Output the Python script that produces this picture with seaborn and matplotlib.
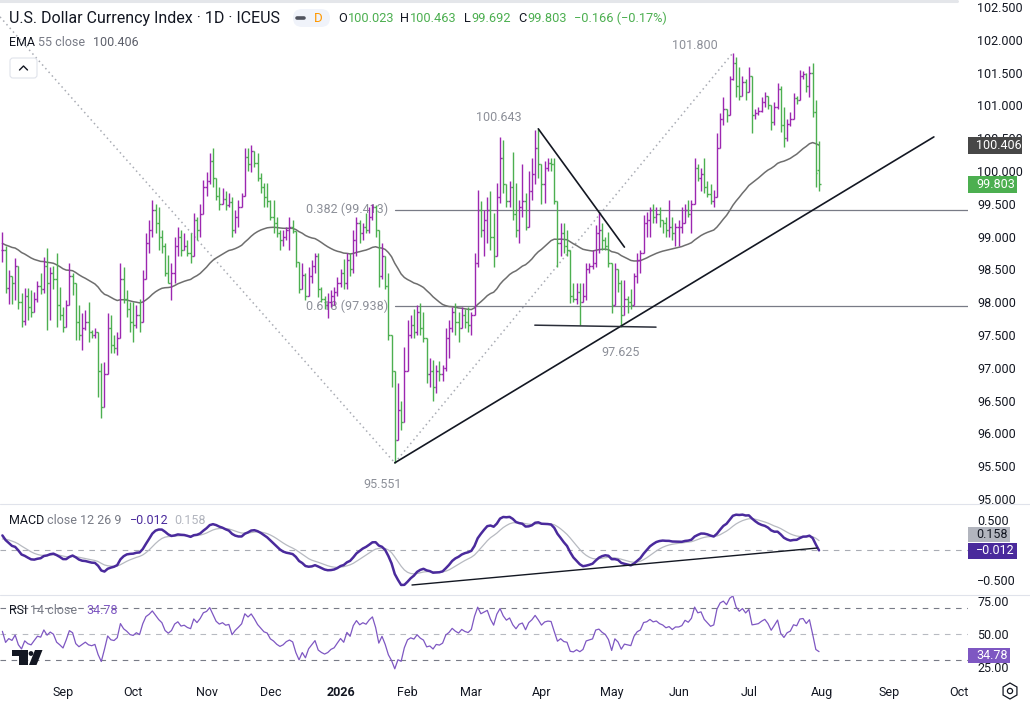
import numpy as np
import pandas as pd
import matplotlib
matplotlib.use("Agg")
import matplotlib.pyplot as plt
import seaborn as sns
from matplotlib.lines import Line2D
from matplotlib.patches import Rectangle, FancyBboxPatch, Polygon, Circle, RegularPolygon
from matplotlib.transforms import IdentityTransform

W, H = 1030, 708

# daily bars 5 Aug 2025 .. 31 Jul 2026, one row per month
closes = [
    98.80, 98.22, 98.40, 98.30, 98.55, 98.00, 97.72, 98.10, 97.92, 97.85, 98.05, 98.25, 98.20, 98.55, 98.30, 98.45, 98.35, 97.95, 97.80,
    97.62, 97.95, 98.40, 98.30, 97.70, 97.50, 97.60, 97.70, 97.55, 97.50, 97.55, 96.95, 96.40, 96.90, 97.60, 97.35, 97.30, 97.45, 98.35, 98.05, 97.90, 97.70,
    97.65, 97.80, 97.70, 98.35, 98.90, 99.10, 99.40, 99.20, 99.00, 98.85, 98.45, 98.30, 98.45, 98.85, 99.00, 98.80, 98.85, 98.75, 98.70, 99.25, 99.10, 99.35, 99.75,
    99.85, 100.15, 99.90, 99.62, 99.50, 99.58, 99.48, 99.52, 99.10, 99.30, 99.45, 99.62, 100.22, 100.10, 100.30, 100.12, 99.90, 99.75, 99.60, 99.55,
    99.30, 99.20, 99.05, 98.95, 99.00, 99.10, 99.15, 99.08, 98.62, 98.20, 98.42, 98.10, 98.40, 98.55, 98.70, 98.20, 98.05, 97.95, 98.00, 98.10, 98.15, 98.30,
    98.45, 98.30, 98.65, 98.50, 98.95, 99.20, 99.05, 99.15, 99.10, 99.30, 99.45, 99.10, 98.40, 98.70, 98.25, 97.50, 96.95, 95.90, 96.36, 96.17, 96.95,
    97.50, 97.65, 97.55, 97.85, 97.60, 97.45, 96.90, 96.95, 96.70, 96.95, 96.90, 97.00, 97.45, 97.60, 97.85, 97.70, 97.60, 97.80, 97.70, 97.65,
    97.80, 98.60, 99.40, 99.10, 99.25, 99.40, 99.00, 98.70, 99.60, 100.20, 99.80, 99.55, 99.75, 99.35, 99.10, 99.45, 99.55, 99.15, 99.70, 99.95, 100.35, 100.10,
    99.80, 100.05, 100.12, 100.10, 99.55, 98.90, 99.05, 98.85, 98.80, 98.10, 98.05, 98.15, 98.00, 98.10, 98.50, 98.55, 98.60, 99.05, 99.10, 98.95, 98.85, 98.60,
    97.95, 98.50, 98.30, 97.80, 98.05, 98.00, 97.95, 98.40, 98.65, 98.75, 99.20, 99.25, 99.40, 99.30, 99.35, 99.25, 99.20, 99.10, 99.15, 99.05, 99.15,
    99.15, 99.20, 99.40, 99.35, 99.50, 100.05, 99.90, 99.95, 99.75, 99.65, 99.55, 99.60, 100.35, 100.80, 100.95, 100.85, 101.40, 101.65, 101.30, 101.15, 101.35, 101.20,
    101.45, 100.85, 100.88, 100.92, 101.05, 101.15, 101.00, 100.75, 100.98, 101.25, 100.70, 100.50, 100.72, 100.80, 101.12, 101.08, 101.45, 101.48, 101.30, 101.50, 100.90, 99.969, 99.803,
]
highs = [
    99.07, 98.85, 98.49, 98.40, 98.67, 98.49, 98.14, 98.22, 98.22, 98.18, 98.15, 98.32, 98.45, 98.69, 98.83, 98.54, 98.55, 98.75, 98.23,
    97.93, 98.03, 98.60, 98.45, 98.30, 97.96, 97.84, 97.88, 98.00, 97.58, 97.60, 97.35, 97.07, 97.09, 97.84, 97.80, 97.50, 97.55, 98.60, 98.54, 98.19, 98.00,
    98.00, 97.95, 98.05, 98.49, 99.05, 99.25, 99.56, 99.50, 99.45, 99.10, 98.90, 98.72, 98.60, 99.00, 99.15, 99.10, 99.05, 98.95, 99.05, 99.36, 99.30, 99.50, 99.86,
    99.98, 100.27, 100.35, 99.90, 99.76, 99.74, 99.70, 99.67, 99.60, 99.40, 99.56, 99.67, 100.35, 100.35, 100.40, 100.27, 100.27, 99.97, 99.82, 99.82,
    99.56, 99.56, 99.30, 99.10, 99.10, 99.15, 99.30, 99.25, 98.95, 98.54, 98.60, 98.45, 98.54, 98.64, 98.75, 98.75, 98.23, 98.10, 98.14, 98.19, 98.23, 98.38,
    98.50, 98.66, 98.75, 98.75, 99.10, 99.30, 99.25, 99.20, 99.36, 99.45, 99.50, 99.48, 99.10, 98.90, 98.45, 98.45, 97.32, 96.77, 96.77, 96.50, 97.32,
    97.73, 97.80, 97.90, 97.95, 97.99, 97.85, 97.45, 97.15, 97.12, 97.05, 97.10, 97.05, 97.60, 97.73, 97.93, 97.99, 97.85, 97.93, 97.90, 97.93,
    97.85, 98.75, 99.71, 99.55, 99.40, 99.60, 99.70, 99.36, 99.82, 100.52, 100.47, 99.80, 99.85, 100.29, 99.82, 99.56, 100.10, 99.67, 100.00, 100.20, 100.63, 100.643,
    100.10, 100.15, 100.20, 100.20, 100.20, 99.18, 99.20, 99.20, 99.10, 98.38, 98.30, 98.30, 98.30, 98.30, 98.60, 98.60, 98.80, 99.18, 99.36, 99.20, 99.00, 99.07,
    98.23, 98.60, 98.50, 98.34, 98.34, 98.10, 98.20, 98.45, 98.75, 98.80, 99.33, 99.38, 99.45, 99.50, 99.45, 99.45, 99.25, 99.30, 99.56, 99.30, 99.20,
    99.25, 99.45, 99.50, 99.56, 99.56, 100.20, 100.10, 100.05, 100.20, 99.85, 99.80, 99.71, 100.58, 100.88, 101.13, 100.95, 101.45, 101.80, 101.74, 101.59, 101.45, 101.40,
    101.59, 101.13, 100.95, 100.98, 101.13, 101.20, 101.10, 101.00, 101.05, 101.34, 101.30, 100.98, 100.80, 100.90, 101.19, 101.15, 101.54, 101.52, 101.50, 101.60, 101.65, 101.08, 100.463,
]
lows = [
    98.62, 98.14, 97.98, 97.98, 98.03, 97.90, 97.62, 97.65, 97.73, 97.78, 97.95, 98.00, 98.12, 98.14, 97.58, 97.73, 98.20, 97.62, 97.73,
    97.54, 97.62, 97.98, 98.11, 97.42, 97.42, 97.27, 97.58, 97.40, 97.45, 97.45, 96.55, 96.23, 96.40, 97.10, 97.23, 97.22, 97.20, 97.77, 97.99, 97.77, 97.55,
    97.40, 97.60, 97.55, 97.93, 98.38, 98.75, 99.00, 99.05, 98.80, 98.75, 98.40, 98.30, 98.03, 98.30, 98.70, 98.70, 98.80, 98.70, 98.60, 98.70, 98.95, 99.00, 99.50,
    99.62, 99.80, 99.76, 99.56, 99.40, 99.50, 99.40, 99.45, 99.00, 99.05, 99.15, 99.45, 99.65, 100.00, 99.98, 100.06, 99.85, 99.67, 99.45, 99.45,
    99.25, 99.06, 99.00, 98.80, 98.85, 98.95, 98.80, 99.05, 98.54, 98.14, 98.20, 98.03, 98.10, 98.30, 98.45, 98.08, 98.00, 97.90, 97.76, 97.93, 97.95, 98.10,
    98.23, 98.20, 98.20, 98.40, 98.45, 98.70, 98.90, 98.95, 99.05, 99.05, 99.25, 99.00, 98.23, 98.35, 98.20, 97.42, 96.70, 95.551, 95.95, 96.05, 96.50,
    97.00, 97.45, 97.45, 97.50, 97.50, 97.40, 96.77, 96.70, 96.50, 96.62, 96.80, 96.80, 96.95, 97.15, 97.55, 97.50, 97.40, 97.60, 97.60, 97.55,
    97.50, 98.00, 98.54, 99.00, 98.70, 98.90, 98.80, 98.54, 99.25, 99.51, 99.67, 99.45, 99.45, 99.25, 99.00, 98.90, 99.30, 99.10, 99.15, 99.56, 99.80, 99.90,
    99.50, 99.51, 100.00, 100.00, 99.50, 98.54, 98.70, 98.75, 98.70, 97.99, 98.00, 97.97, 97.65, 98.00, 98.03, 98.45, 98.50, 98.54, 98.75, 98.80, 98.80, 98.54,
    97.83, 97.95, 98.15, 97.625, 97.95, 97.83, 97.90, 97.95, 98.30, 98.45, 98.75, 99.00, 99.00, 99.20, 99.20, 99.15, 99.05, 99.00, 99.00, 98.95, 98.85,
    98.85, 99.05, 99.20, 99.30, 99.05, 99.50, 99.85, 99.70, 99.67, 99.60, 99.50, 99.45, 99.60, 100.35, 100.70, 100.75, 100.85, 101.39, 101.13, 101.08, 101.15, 101.08,
    101.20, 100.58, 100.80, 100.85, 100.90, 100.98, 100.95, 100.63, 100.70, 100.95, 100.60, 100.37, 100.45, 100.68, 100.80, 101.02, 101.08, 101.40, 101.20, 101.13, 100.83, 99.76, 99.692,
]
last_open = 100.023

# indicator state at the left edge
ema55_seed = 98.90
ema12_seed = 99.00
ema26_seed = 98.72
signal_seed = 0.17
rsi_gain_seed = 0.13
rsi_loss_seed = 0.12

# drawn lines (bar index, value)
zigzag_start = (-0.75, 102.35)
trend_end = (292, 100.52)
down_line_end = (195, 98.84)
flat_line = [(166.9, 97.65), (204.9, 97.62)]
macd_trend = [(128.4, -0.583), (255.4, 0.033)]

month_names = ["Sep", "Oct", "Nov", "Dec", "2026", "Feb", "Mar", "Apr", "May", "Jun", "Jul", "Aug", "Sep", "Oct"]

PURPLE = "#9c27b0"
GREEN = "#4caf50"
MACD_C = "#4a2a9c"
RSI_C = "#7e57c2"
TXT = "#131722"
GREY = "#787b86"

days = pd.bdate_range("2025-08-05", "2026-10-30")
days = days[~days.isin(pd.to_datetime(["2025-12-25", "2026-01-01"]))]
n = len(closes)
df = pd.DataFrame({"date": days[:n], "close": closes, "high": highs, "low": lows})
df["x"] = np.arange(n)
df["open"] = df["close"].shift(1)
df.loc[0, "open"] = df.loc[0, "close"]
df.loc[n - 1, "open"] = last_open
df["high"] = df[["high", "open", "close"]].max(axis=1)
df["low"] = df[["low", "open", "close"]].min(axis=1)

pos = pd.Series(np.arange(len(days)), index=days)
month_first = pos.groupby([days.year, days.month]).min().values[1:1 + len(month_names)]


def ema(vals, span, seed):
    a = 2.0 / (span + 1)
    out, prev = [], seed
    for v in vals:
        prev += a * (v - prev)
        out.append(prev)
    return np.array(out)


def rsi(vals, period, g, l):
    out, prev = [], vals[0]
    for v in vals:
        ch = v - prev
        prev = v
        g = (g * (period - 1) + max(ch, 0)) / period
        l = (l * (period - 1) + max(-ch, 0)) / period
        out.append(100 - 100 / (1 + g / l))
    return np.array(out)


df["ema"] = ema(df.close, 55, ema55_seed)
df["macd"] = ema(df.close, 12, ema12_seed) - ema(df.close, 26, ema26_seed)
df["signal"] = ema(df.macd, 9, signal_seed)
df["rsi"] = rsi(list(df.close), 14, rsi_gain_seed, rsi_loss_seed)

sns.set_theme(style="white")
plt.rcParams["font.family"] = ["Roboto", "DejaVu Sans"]

fig = plt.figure(figsize=(W / 100, H / 100), dpi=100)


def axes_px(top, bottom):
    a = fig.add_axes([0, 1 - bottom / H, 968 / W, (bottom - top) / H])
    a.set_facecolor("none")
    for s in a.spines.values():
        s.set_visible(False)
    a.set_xlim(-0.75, 302.7)
    return a


ax = axes_px(0, 503)
ax_m = axes_px(504, 594)
ax_r = axes_px(595, 680)
ax.set_ylim(94.939, 102.607)
ax_m.set_ylim(-0.733, 0.767)
ax_r.set_ylim(15.15, 79.5)

# price bars
up = df.close >= df.open
for mask, col in [(up, PURPLE), (~up, GREEN)]:
    d = df[mask]
    ax.vlines(d.x, d.low, d.high, color=col, lw=1.0, zorder=3)
    ax.hlines(d.open, d.x - 0.5, d.x, color=col, lw=1.0, zorder=3)
    ax.hlines(d.close, d.x, d.x + 0.5, color=col, lw=1.0, zorder=3)

sns.lineplot(x=df.x, y=df.ema, ax=ax, color="#6e6e6e", linewidth=1.1, zorder=2)

# drawings
i_low = int(np.argmin(df.low))
i_high = int(np.argmax(df.high))
i_mar = int(np.argmax(df.high[:200]))
i_may = 170 + int(np.argmin(df.low[170:230]))
p_low, p_high = df.low[i_low], df.high[i_high]
dot = dict(color="#a9acb4", lw=1.1, ls=(0, (1, 2.2)), zorder=1)
ax.plot([zigzag_start[0], i_low], [zigzag_start[1], p_low], **dot)
ax.plot([i_low, i_high], [p_low, p_high], **dot)
for lvl in (0.382, 0.618):
    v = p_high - lvl * (p_high - p_low)
    ax.plot([i_low, 302.7], [v, v], color=GREY, lw=0.9, zorder=1)
    ax.annotate(f"{lvl:.3f} ({v:.3f})", (i_low, v), xytext=(-7, 0), textcoords="offset pixels",
                ha="right", va="center", fontsize=9, color="#8c8f98", zorder=1)
ax.plot([i_low, trend_end[0]], [p_low, trend_end[1]], color=TXT, lw=1.2, zorder=4)
ax.plot([i_mar, down_line_end[0]], [df.high[i_mar], down_line_end[1]], color=TXT, lw=1.2, zorder=4)
ax.plot([p[0] for p in flat_line], [p[1] for p in flat_line], color="#2a2e39", lw=1.1, zorder=4)

for i, val, dx, dy in [(i_high, p_high, -38, 7), (i_mar, df.high[i_mar], -39, 11),
                       (i_low, p_low, -12, -22), (i_may, df.low[i_may], -1, -26)]:
    ax.annotate(f"{val:.3f}", (i, val), xytext=(dx, dy), textcoords="offset pixels",
                ha="center", va="center", fontsize=9, color="#8c8f98")

# MACD
ax_m.axhline(0, color="#a9acb4", lw=0.8, ls=(0, (5, 5)))
sns.lineplot(x=df.x, y=df.signal, ax=ax_m, color="#b7bac1", linewidth=0.9)
sns.lineplot(x=df.x, y=df.macd, ax=ax_m, color=MACD_C, linewidth=1.8)
ax_m.plot([p[0] for p in macd_trend], [p[1] for p in macd_trend], color=TXT, lw=1.0)

# RSI
for lvl, col in [(70, GREY), (50, "#b7bac1"), (30, GREY)]:
    ax_r.axhline(lvl, color=col, lw=0.8, ls=(0, (5, 5)))
sns.lineplot(x=df.x, y=df.rsi, ax=ax_r, color=RSI_C, linewidth=0.9)

# axes ticks
for a in (ax, ax_m, ax_r):
    a.set_xlabel("")
    a.set_ylabel("")
    a.yaxis.tick_right()
    a.tick_params(axis="y", length=0, pad=6.5, labelsize=9, labelcolor=TXT)
    a.tick_params(axis="x", length=0)
ax.set_xticks([])
ax_m.set_xticks([])
pticks = np.arange(95.0, 102.51, 0.5)
ax.set_yticks(pticks)
ax.set_yticklabels([f"{v:.3f}" for v in pticks])
ax_m.set_yticks([-0.5, 0.5])
ax_m.set_yticklabels(["\u22120.500", "0.500"])
ax_r.set_yticks([25, 50, 75])
ax_r.set_yticklabels(["25.00", "50.00", "75.00"])
ax_r.set_xticks(month_first)
ax_r.set_xticklabels(month_names, fontsize=9, color=TXT)
ax_r.tick_params(axis="x", pad=4)
for t in ax_r.get_xticklabels():
    if t.get_text() == "2026":
        t.set_fontweight("bold")

ident = IdentityTransform()
fig.canvas.draw()
renderer = fig.canvas.get_renderer()


def chain(x, y, parts, size=9):
    # lay legend pieces one after another, gap in pixels after each
    for s, col, gap in parts:
        t = fig.text(x / W, 1 - y / H, s, color=col, fontsize=size, va="center", ha="left")
        x += t.get_window_extent(renderer).width + gap


def value_box(text, fc, tc, x1, yc, h):
    fig.patches.append(Rectangle((968, H - yc - h / 2), x1 - 968, h, transform=ident,
                                 fc=fc, ec="none", zorder=5))
    fig.text(976 / W, 1 - yc / H, text, color=tc, va="center", ha="left", fontsize=9, zorder=6)


value_box("100.406", "#474747", "white", 1022, 145.5, 17)
value_box("99.803", GREEN, "white", 1017, 184.5, 17)
value_box("0.158", "#b2b5be", TXT, 1010, 534.5, 15)
value_box("\u22120.012", MACD_C, "white", 1017, 551, 16)
value_box("34.78", RSI_C, "white", 1010, 655.5, 15)

# panel separators and top strip
for yy in (503.5, 594.5):
    fig.add_artist(Line2D([0, 1], [1 - yy / H] * 2, color="#e0e3eb", lw=0.8))
fig.add_artist(Line2D([0, 957 / W], [1 - 1.2 / H] * 2, color="#e4e6ea", lw=2.2))

# header legend
chain(9, 18, [("U.S. Dollar Currency Index \u00b7 1D \u00b7 ICEUS", TXT, 0)], size=11.5)
fig.patches.append(FancyBboxPatch((293, H - 27), 37, 18, boxstyle="round,pad=0,rounding_size=9",
                                  transform=ident, fc="#f0f3fa", ec="none"))
fig.add_artist(Line2D([297, 304], [H - 18, H - 18], transform=ident, color="#50535e", lw=2.6,
                      solid_capstyle="round"))
chain(314, 18, [("D", "#ff9800", 0)], size=9.5)
chain(338, 18, [("O", TXT, 1), ("100.023", GREEN, 6), ("H", TXT, 1), ("100.463", GREEN, 7),
                ("L", TXT, 1), ("99.692", GREEN, 7), ("C", TXT, 1), ("99.803", GREEN, 7),
                ("\u22120.166 (\u22120.17%)", GREEN, 0)], size=9.2)
chain(9, 43, [("EMA", TXT, 3), ("55 close", GREY, 8), ("100.406", "#5d606b", 0)])
fig.patches.append(FancyBboxPatch((10, H - 78), 27, 20, boxstyle="round,pad=0,rounding_size=3",
                                  transform=ident, fc="white", ec="#e0e3eb", lw=0.8))
fig.add_artist(Line2D([19.5, 23.5, 27.5], [H - 70, H - 66, H - 70], transform=ident, color=TXT, lw=1.0))

chain(9, 521, [("MACD", TXT, 3), ("close 12 26 9", GREY, 8), ("\u22120.012", MACD_C, 6),
               ("0.158", "#b2b5be", 0)])
chain(9, 610, [("RSI", TXT, 3), ("14 close", GREY, 9), ("34.78", RSI_C, 0)])

# TradingView mark
logo = [Rectangle((12, H - 656), 16, 6, transform=ident),
        Rectangle((18.5, H - 665), 9.5, 15, transform=ident),
        Circle((31, H - 653.5), 2.4, transform=ident),
        Polygon([(35, H - 650), (42.5, H - 650), (36.5, H - 665), (29, H - 665)], transform=ident)]
for p in logo:
    p.set_facecolor(TXT)
    p.set_edgecolor("none")
    fig.patches.append(p)

# settings icon under the scale
fig.patches.append(RegularPolygon((1010, H - 691), 6, radius=8, transform=ident,
                                  fc="none", ec=TXT, lw=0.9))
fig.patches.append(Circle((1010, H - 691), 2.6, transform=ident, fc="none", ec=TXT, lw=0.9))

fig.savefig("out.png", dpi=100, facecolor="white")
